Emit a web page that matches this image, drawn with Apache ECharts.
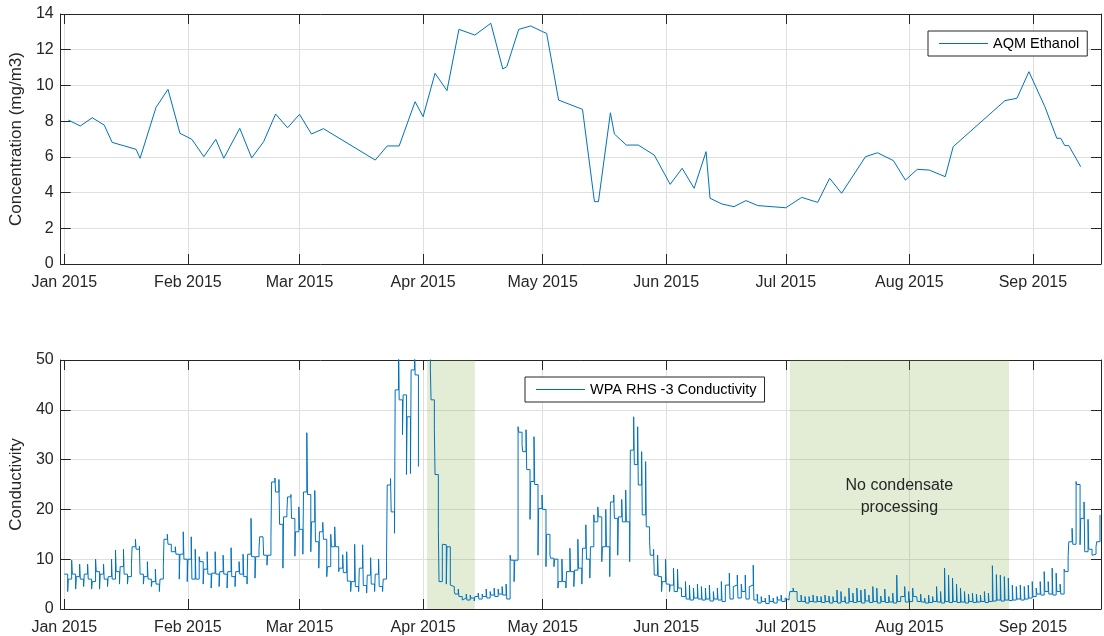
<!DOCTYPE html>
<html>
<head>
<meta charset="utf-8">
<script src="https://cdn.jsdelivr.net/npm/echarts@6/dist/echarts.min.js"></script>
<style>
  html, body { margin: 0; padding: 0; background: #fff; }
  #chart { width: 1104px; height: 636px; }
</style>
</head>
<body>
<div id="chart"></div>
<script>
// top panel: AQM ethanol samples
const ethDates = [
  '2015-01-02', '2015-01-05', '2015-01-08', '2015-01-11', '2015-01-13', '2015-01-19', '2015-01-20', '2015-01-24', '2015-01-27', '2015-01-30',
  '2015-02-02', '2015-02-05', '2015-02-08', '2015-02-10', '2015-02-14', '2015-02-17', '2015-02-20', '2015-02-23', '2015-02-26',
  '2015-03-01', '2015-03-04', '2015-03-07', '2015-03-20', '2015-03-23', '2015-03-26', '2015-03-30',
  '2015-04-01', '2015-04-04', '2015-04-07', '2015-04-10', '2015-04-14', '2015-04-18', '2015-04-21', '2015-04-22', '2015-04-25', '2015-04-28',
  '2015-05-01', '2015-05-02', '2015-05-05', '2015-05-11', '2015-05-14', '2015-05-15', '2015-05-18', '2015-05-19', '2015-05-22', '2015-05-25', '2015-05-29',
  '2015-06-02', '2015-06-05', '2015-06-08', '2015-06-11', '2015-06-12', '2015-06-15', '2015-06-18', '2015-06-21', '2015-06-24',
  '2015-07-01', '2015-07-05', '2015-07-09', '2015-07-12', '2015-07-15', '2015-07-21', '2015-07-24', '2015-07-28', '2015-07-31',
  '2015-08-03', '2015-08-06', '2015-08-10', '2015-08-12', '2015-08-25', '2015-08-28', '2015-08-31',
  '2015-09-04', '2015-09-07', '2015-09-08', '2015-09-09', '2015-09-10', '2015-09-13',
];
const ethValues = [
  8.06, 7.73, 8.19, 7.78, 6.81, 6.42, 5.92, 8.77, 9.78, 7.32,
  6.98, 6.01, 6.98, 5.92, 7.60, 5.94, 6.85, 8.40, 7.63,
  8.38, 7.28, 7.58, 5.82, 6.61, 6.61, 9.09,
  8.25, 10.68, 9.71, 13.14, 12.82, 13.48, 10.92, 11.05, 13.14, 13.33,
  13.01, 12.92, 9.18, 8.66, 3.49, 3.49, 8.47, 7.28, 6.66, 6.66, 6.10,
  4.46, 5.36, 4.24, 6.29, 3.68, 3.36, 3.21, 3.55, 3.27,
  3.15, 3.73, 3.45, 4.80, 3.96, 6.01, 6.23, 5.79, 4.70,
  5.30, 5.26, 4.89, 6.57, 9.15, 9.28, 10.77,
  8.81, 7.04, 7.04, 6.63, 6.63, 5.45,
];

// bottom panel: conductivity, two readings a day from Jan 1 (resting level, then late-day spike)
const condStart = [2015, 0, 1];
const condLevel = [
  // Jan
  7, 6, 7, 6.5, 6, 7, 6, 5.5, 7.5, 7, 6, 6.5, 6, 7.5, 8.5, 7, 6.5, 12.5, 12, 7, 6.5, 6, 5.5, 5, 6, 14, 13, 11.5, 11, 11, 10,
  // Feb
  10, 6, 6, 9.5, 8, 7, 7.2, 7, 7.5, 7, 7.5, 6.5, 7.5, 7, 6.5, 11, 10.5, 10.5, 14.5, 10.8, 10.8, 25.5, 23.5, 17, 18.5, 22.5, 18.2, 15.5,
  // Mar
  16, 23.5, 23, 17.5, 13.5, 15.5, 14, 8.5, 12.5, 12.5, 8.2, 7.3, 5.6, 5.5, 4.5, 8.2, 4.7, 6.8, 5, 7, 4.5, 6, 24.9, 19.5, 44, 42, 43, 38.6, 48, 47, null,
  // Apr
  null, 58, 42, 27, 5.5, 12.9, 12.5, 4.5, 3, 2.5, 2.2, 1.8, 2.2, 2.5, 2, 2.5, 2.2, 2.8, 2.5, 3, 2.8, 2, 9.8, 9.8, 35.5, 31.6, 28, 25.6, 25, 20.2,
  // May
  20, 15, 10.2, 10, 5.5, 5.5, 7.5, 7.5, 7.8, 8.2, 12.2, 10, 12.5, 17.5, 18.5, 12.5, 12.5, 21.5, 18.2, 18.5, 17.5, 17.5, 31.9, 29, 24.9, 18.9, 16.5, 10.8, 6.8, 6.5, 5.5,
  // Jun
  5, 4.8, 3.5, 4.2, 2.5, 2, 1.8, 2.2, 2, 1.8, 2, 1.6, 2, 1.8, 1.5, 4.8, 2, 4.8, 2.2, 3.5, 2, 4.8, 1.8, 1.2, 1.5, 1.1, 1.5, 1.2, 1.8, 1.5,
  // Jul
  1.8, 3.5, 3.5, 1.5, 1.5, 1.2, 1.5, 1.4, 1.5, 1.3, 1.5, 1.2, 1.5, 1.2, 1.5, 1.2, 1.5, 1.3, 1.5, 1.2, 1.6, 1.3, 1.5, 1.2, 1.5, 1.3, 1.4, 1.2, 1.5, 2.5, 1.4,
  // Aug
  1.5, 2.5, 1.5, 1.4, 1.2, 1.3, 1.5, 1.4, 1.2, 1.5, 1.3, 1.5, 1.3, 1.4, 1.2, 1.5, 1.3, 1.4, 1.5, 1.3, 1.5, 1.6, 1.8, 1.6, 1.8, 1.7, 1.8, 2, 1.8, 2, 2.2,
  // Sep
  2.5, 3, 2.8, 3.5, 3, 2.8, 3.5, 3, 7.5, 13.5, 13, 25, 18.2, 11.5, 12, 11, 13.5,
];
const condPeak = [
  // Jan
  3.5, 9.8, 4, 9, 4.5, 9, 4, 10, 4, 9, 4.5, 10, 11.8, 5, 12, 5, 9, 14, 12.6, 5, 9.5, 4.5, 8, 3.5, 8.5, 15, 11.5, 12.5, 6, 15.5, 5.5,
  // Feb
  14.5, 12, 10.5, 5, 11.5, 4.2, 11.5, 4.5, 10.8, 4.2, 12.3, 4.5, 9.5, 11, 5, 18.2, 6.2, 12, 14.8, 8.8, 14.5, 26.3, 26, 8.2, 19.5, 23, 10.6, 20.5,
  // Mar
  11, 35.4, 11.5, 23.8, 8.2, 17.4, 6.5, 15, 16.5, 7.5, 10.9, 11.5, 3.5, 13, 3.5, 12.9, 3.2, 10.3, 3.5, 10, 3.5, 9.8, 26.2, 15.2, 58, 35, 27, 27.2, 60, 28.6, null,
  // Apr
  null, 48, 36, 16, 13, 5, 4.8, 3.5, 4, 1.8, 3, 2.8, 1.6, 3.2, 3, 4, 3.5, 4.2, 4, 4.5, 5, 10.8, 5.5, 36.6, 33, 36, 18, 34.6, 10.8, 22.9,
  // May
  8.5, 10.8, 8.5, 4.2, 10, 4.2, 12.2, 4.5, 14, 5, 16.9, 6.2, 18.9, 20.5, 9.5, 20, 6.5, 22.9, 10.8, 22, 23.9, 9.5, 38.6, 36.6, 31.6, 29.6, 13.5, 12, 10.8, 3.5, 10,
  // Jun
  3.5, 8.2, 8, 2.5, 5.5, 4.8, 4.2, 5, 4.5, 4.2, 4.8, 3.5, 4.2, 5.5, 4.8, 7.2, 4.5, 6.8, 5, 6.8, 4.5, 8.8, 3, 2.5, 2.2, 2.8, 2.2, 2.5, 2.8, 2.2,
  // Jul
  2.5, 4.2, 2, 2.8, 2.5, 2.5, 2.8, 2.6, 2.5, 2.8, 2.6, 2.5, 3.8, 3.5, 2.5, 4.2, 3.2, 4.2, 3.8, 4, 2.8, 4.5, 4.2, 2.6, 4, 2.5, 3.2, 6.8, 2.5, 4.5, 3.5,
  // Aug
  4.2, 2.8, 3, 2.2, 2.8, 2.5, 4.5, 3.5, 8.2, 6.8, 6.2, 5, 4.2, 3.5, 3, 3.2, 3, 2.8, 3.5, 3.2, 8.7, 6.9, 6.8, 6.5, 6.2, 4.8, 4.5, 4.8, 4.5, 4.8, 5.5,
  // Sep
  4.2, 5.5, 7.5, 5.5, 8.2, 7.2, 5, 8, 10.5, 16.2, 25.6, 12.9, 21.5, 18, 10.8, 12.5, 18.9,
];

// shaded periods with no condensate processing
const shadeStart = ['2015-04-02', '2015-07-02'];
const shadeEnd = ['2015-04-14', '2015-08-26'];

const FONT = "'Liberation Sans', Arial, Helvetica, sans-serif";
const AXIS = '#262626';
const GRIDLINE = '#dfdfdf';
const BLUE = '#0072bd';
const DAY = 24 * 3600 * 1000;
const HOUR = 3600 * 1000;
const xMin = new Date(2014, 11, 31, 2).getTime();
const xMax = new Date(2015, 8, 18, 2).getTime();

const ethData = ethDates.map((d, i) => [d, ethValues[i]]);

// level is read at midnight, spike reading at 20:00
const t0 = new Date(condStart[0], condStart[1], condStart[2]).getTime();
const condData = [];
condLevel.forEach((v, i) => {
  condData.push([t0 + i * DAY, v]);
  condData.push([t0 + i * DAY + 20 * HOUR, condPeak[i]]);
});

function xAxisFor(gridIndex, position) {
  const bottom = position === 'bottom';
  return {
    type: 'time',
    gridIndex,
    position,
    min: xMin,
    max: xMax,
    splitNumber: 9,
    minInterval: 28 * DAY,
    maxInterval: 31 * DAY,
    axisLine: { show: true, onZero: false, lineStyle: { color: AXIS, width: 1 } },
    axisTick: { show: true, inside: true, length: 10, lineStyle: { color: AXIS } },
    axisLabel: {
      show: bottom,
      formatter: '{MMM} {yyyy}',
      color: AXIS,
      fontSize: 16,
      fontFamily: FONT,
      margin: 11,
      hideOverlap: false,
    },
    splitLine: { show: bottom, lineStyle: { color: GRIDLINE } },
  };
}

function yAxisFor(gridIndex, position, max, interval, name) {
  const left = position === 'left';
  return {
    type: 'value',
    gridIndex,
    position,
    min: 0,
    max,
    interval,
    name: left ? name : '',
    nameLocation: 'middle',
    nameGap: 25,
    nameTextStyle: { color: AXIS, fontSize: 17, fontFamily: FONT },
    axisLine: { show: true, lineStyle: { color: AXIS, width: 1 } },
    axisTick: { show: true, inside: true, length: 10, lineStyle: { color: AXIS } },
    axisLabel: { show: left, color: AXIS, fontSize: 16, fontFamily: FONT, margin: 7 },
    splitLine: { show: left, lineStyle: { color: GRIDLINE } },
  };
}

function legendFor(name, left, top) {
  return {
    data: [{ name, icon: 'rect' }],
    left,
    top,
    orient: 'horizontal',
    backgroundColor: '#fff',
    borderColor: AXIS,
    borderWidth: 1,
    borderRadius: 0,
    padding: [5, 8, 5, 11],
    itemWidth: 49,
    itemHeight: 1.2,
    itemStyle: { color: BLUE, borderWidth: 0 },
    textStyle: { color: '#000', fontSize: 14.5, fontFamily: FONT },
  };
}

const chart = echarts.init(document.getElementById('chart'));
const option = {
  animation: false,
  backgroundColor: '#fff',
  grid: [
    { left: 57, right: 3, top: 14, height: 250 },
    { left: 57, right: 3, top: 360, height: 249 },
  ],
  legend: [
    legendFor('AQM Ethanol', 928, 31),
    legendFor('WPA RHS -3 Conductivity', 525, 377),
  ],
  xAxis: [
    xAxisFor(0, 'bottom'),
    xAxisFor(0, 'top'),
    xAxisFor(1, 'bottom'),
    xAxisFor(1, 'top'),
  ],
  yAxis: [
    yAxisFor(0, 'left', 14, 2, 'Concentration (mg/m3)'),
    yAxisFor(0, 'right', 14, 2),
    yAxisFor(1, 'left', 50, 10, 'Conductivity'),
    yAxisFor(1, 'right', 50, 10),
  ],
  series: [{
    name: 'AQM Ethanol',
    type: 'line',
    xAxisIndex: 0,
    yAxisIndex: 0,
    data: ethData,
    symbol: 'none',
    lineStyle: { color: BLUE, width: 1 },
    itemStyle: { color: BLUE },
  }, {
    name: 'WPA RHS -3 Conductivity',
    type: 'line',
    step: 'end',
    xAxisIndex: 2,
    yAxisIndex: 2,
    data: condData,
    symbol: 'none',
    connectNulls: false,
    lineStyle: { color: BLUE, width: 1 },
    itemStyle: { color: BLUE },
    markArea: {
      silent: true,
      itemStyle: { color: 'rgba(115, 165, 45, 0.2)' },
      label: { show: false },
      data: [
        [{ xAxis: shadeStart[0] }, { xAxis: shadeEnd[0] }],
        [{
          xAxis: shadeStart[1],
          label: {
            show: true,
            position: 'inside',
            formatter: 'No condensate\nprocessing',
            color: AXIS,
            fontSize: 16,
            lineHeight: 22,
            fontFamily: FONT,
            offset: [0, 12],
          },
        }, { xAxis: shadeEnd[1] }],
      ],
    },
  }],
};
chart.setOption(option);
</script>
</body>
</html>
